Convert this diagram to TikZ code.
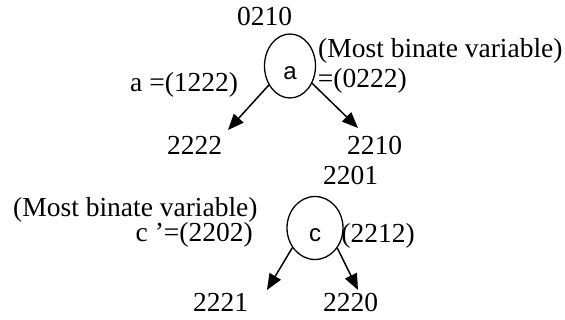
\documentclass[tikz,border=0pt]{standalone}
\usepackage{fontspec}
\setmainfont{Liberation Serif}
\newfontfamily\arialfont{Liberation Sans}
\usetikzlibrary{shapes.geometric,arrows.meta}
\begin{document}
\begin{tikzpicture}[x=1pt,y=-1pt,
  lbl/.style={inner sep=0pt,font=\fontsize{27.5}{30}\selectfont},
  varnode/.style={draw,ellipse,fill=white,line width=1.3pt,inner sep=0pt,
    font=\arialfont\fontsize{24}{26}\selectfont,text height=28pt,text depth=0pt},
  arr/.style={line width=1.5pt,-{Triangle[length=16pt,width=13pt]}}]
\useasboundingbox (0,0) rectangle (565,320);
% top tree
\node[lbl,anchor=base west] (t0210) at (237,26) {0210};
\node[lbl,anchor=base west] (mb1) at (318,58) {(Most binate variable)};
\node[lbl,anchor=base west] (apos) at (130,92) {a =(1222)};
\node[lbl,anchor=base east] (aneg) at (407,88) {a '=(0222)};
\node[varnode,minimum width=51pt,minimum height=64pt] (a) at (290,66) {a};
\node[lbl,anchor=base west] (t2222) at (167,155) {2222};
\node[lbl,anchor=base west] (t2210) at (347,155) {2210};
\coordinate (ta1) at (228,130);
\coordinate (ta2) at (358,128);
\draw[arr] (a.222) -- (ta1);
\draw[arr] (a.322) -- (ta2);
% bottom tree
\node[lbl,anchor=base west] (t2201) at (323,185) {2201};
\node[lbl,anchor=base west] (mb2) at (13,217) {(Most binate variable)};
\node[lbl,anchor=base east] (cneg) at (253,242) {c '=(2202)};
\node[lbl,anchor=base east] (cpos) at (415,243) {c =(2212)};
\node[varnode,minimum width=56pt,minimum height=63pt] (c) at (315,228) {c};
\node[lbl,anchor=base west] (t2221) at (193,312) {2221};
\node[lbl,anchor=base west] (t2220) at (323,312) {2220};
\coordinate (tc1) at (267,290);
\coordinate (tc2) at (358,290);
\draw[arr] (c.221) -- (tc1);
\draw[arr] (c.318) -- (tc2);
\end{tikzpicture}
\end{document}
